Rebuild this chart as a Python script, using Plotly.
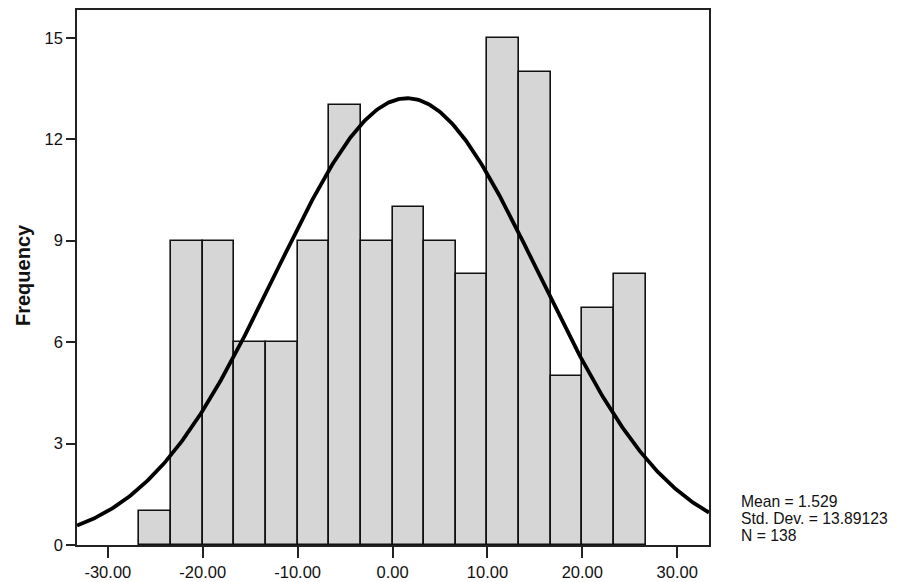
import numpy as np
import plotly.graph_objects as go

# ---- data ----
bin_start = -26.6667
bin_width = 10.0 / 3.0
counts = [1, 9, 9, 6, 6, 9, 13, 9, 10, 9, 8, 15, 14, 5, 7, 8]
mean_val = 1.529
sd_val = 13.89123
n_val = 138
x_tick_vals = [-30, -20, -10, 0, 10, 20, 30]
x_tick_text = ["-30.00", "-20.00", "-10.00", "0.00", "10.00", "20.00", "30.00"]
y_tick_vals = [0, 3, 6, 9, 12, 15]
x_range = [-33.25, 33.35]
y_range = [0, 15.82]

centers = [bin_start + bin_width * (i + 0.5) for i in range(len(counts))]

# normal curve scaled to the histogram
xs = np.linspace(x_range[0], x_range[1], 400)
ys = n_val * bin_width / (sd_val * np.sqrt(2 * np.pi)) * np.exp(-0.5 * ((xs - mean_val) / sd_val) ** 2)

fig = go.Figure()
fig.add_trace(go.Bar(
    x=centers, y=counts, width=bin_width,
    marker=dict(color="#d6d6d6", line=dict(color="#111111", width=1.6)),
    hoverinfo="skip",
))
fig.add_trace(go.Scatter(
    x=xs, y=ys, mode="lines",
    line=dict(color="#000000", width=3.8),
    hoverinfo="skip",
))

# page body has an 8px margin; compensate so the plot lands where the reference has it
OFF = 8
W, H = 901 - OFF, 582 - OFF
ml, mr, mt, mb = 77 - OFF, 192, 8 - OFF, 37
pw, ph = W - ml - mr, H - mt - mb


def px2paper(xp, yp):
    # xp, yp in window pixels
    return (xp - OFF - ml) / pw, (H - mb - (yp - OFF)) / ph


annotations = []
stats = [("Mean = %.3f" % mean_val, 501), ("Std. Dev. = %.5f" % sd_val, 518), ("N = %d" % n_val, 535)]
for txt, yp in stats:
    xpap, ypap = px2paper(739, yp)
    annotations.append(dict(
        text=txt, x=xpap, y=ypap, xref="paper", yref="paper",
        xanchor="left", yanchor="middle", showarrow=False,
        font=dict(family="Liberation Sans, Arial, sans-serif", size=15.7, color="#111111"),
    ))
xpap, ypap = px2paper(23, 274)
annotations.append(dict(
    text="<b>Frequency</b>", x=xpap, y=ypap, xref="paper", yref="paper",
    xanchor="center", yanchor="middle", showarrow=False, textangle=-90,
    font=dict(family="Liberation Sans, Arial, sans-serif", size=20, color="#111111"),
))

fig.update_layout(
    width=W, height=H,
    margin=dict(l=ml, r=mr, t=mt, b=mb, pad=0),
    paper_bgcolor="white", plot_bgcolor="white",
    showlegend=False,
    bargap=0,
    annotations=annotations,
    font=dict(family="Liberation Sans, Arial, sans-serif", size=15, color="#111111"),
)
fig.update_xaxes(
    range=x_range, tickvals=x_tick_vals, ticktext=x_tick_text,
    showgrid=False, zeroline=False,
    showline=True, linecolor="#222222", linewidth=1.5, mirror=True,
    ticks="outside", ticklen=11, tickwidth=1.5, tickcolor="#222222",
    tickfont=dict(size=16.5),
)
fig.update_yaxes(
    range=y_range, tickvals=y_tick_vals,
    showgrid=False, zeroline=False,
    showline=True, linecolor="#222222", linewidth=1.5, mirror=True,
    ticks="outside", ticklen=9, tickwidth=1.5, tickcolor="#222222",
    tickfont=dict(size=16.5),
)

fig.write_html("out.html")
